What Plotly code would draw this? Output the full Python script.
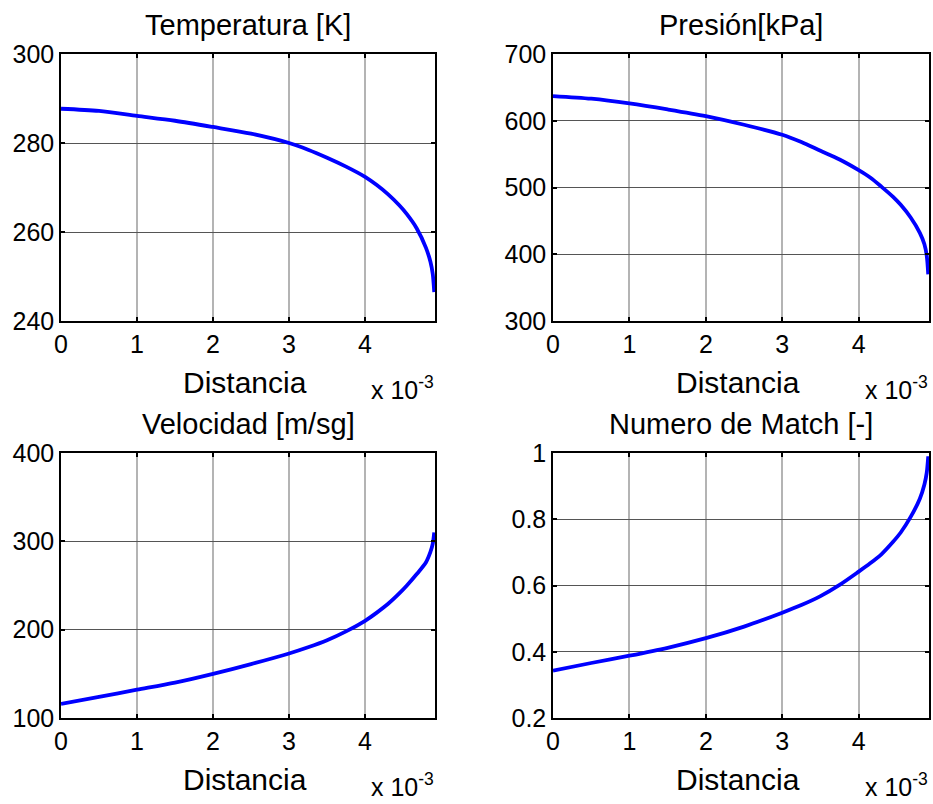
import plotly.graph_objects as go

# Distance in units of 1e-3 (axis multiplier shown as "x 10^-3")
distancia = [0, 0.5, 1, 1.5, 2, 2.5, 3, 3.25, 3.5, 3.75, 4, 4.15, 4.3, 4.45, 4.55, 4.68, 4.8, 4.86, 4.89, 4.91]
temperatura = [287.7, 287.2, 286.1, 285.0, 283.6, 282.1, 280.0, 278.5, 276.7, 274.7, 272.4, 270.6, 268.5, 266.0, 264.0, 260.8, 256.5, 253.3, 250.6, 246.5]
presion = [637, 633, 626, 617, 607, 594, 579, 568, 555, 542, 526, 515, 501, 486, 474, 455, 432, 415, 398, 370]
velocidad = [116, 124, 132, 140, 150, 161, 173, 180, 188, 198, 210, 219, 229, 241, 250, 263, 276, 288, 297, 310]
mach = [0.343, 0.366, 0.388, 0.412, 0.441, 0.476, 0.518, 0.541, 0.568, 0.602, 0.642, 0.667, 0.695, 0.732, 0.76, 0.807, 0.862, 0.905, 0.94, 0.99]

titles = ["Temperatura [K]", "Presión[kPa]", "Velocidad [m/sg]", "Numero de Match [-]"]
series = [temperatura, presion, velocidad, mach]
yranges = [[240, 300], [300, 700], [100, 400], [0.2, 1.0]]
ydticks = [20, 100, 100, 0.2]
xtick_vals = [0, 1, 2, 3, 4]
xtick_text = ["0", "1", "2", "3", "4"]
xlabel = "Distancia"
multiplier = "x 10<sup>-3</sup>"

W, H = 933, 804
FONT = "Arial, Liberation Sans, sans-serif"

# pixel boxes (left, right, top, bottom)
boxes = [(61, 435, 54, 321), (553, 929, 54, 321), (61, 435, 453, 718), (553, 929, 453, 718)]

fig = go.Figure()
annotations = []
for i, (box, ys, title, yr, dt) in enumerate(zip(boxes, series, titles, yranges, ydticks)):
    l, r, t, b = box
    n = "" if i == 0 else str(i + 1)
    fig.add_trace(go.Scatter(x=distancia, y=ys, mode="lines",
                             line=dict(color="#0000ff", width=3.8, shape="spline", smoothing=0.8),
                             xaxis="x" + n, yaxis="y" + n, showlegend=False, cliponaxis=False))
    common = dict(showline=True, linecolor="black", linewidth=1.5, mirror="ticks", ticks="inside",
                  ticklen=4, tickwidth=2, tickcolor="black", zeroline=False, automargin=False,
                  tickfont=dict(family=FONT, size=25, color="black"))
    fig.layout["xaxis" + n] = dict(domain=[l / W, r / W], anchor="y" + n, range=[0, 4.92],
                                   tickvals=xtick_vals, ticktext=xtick_text, showgrid=True,
                                   gridcolor="#b4b4b4", gridwidth=1.5, **common)
    fig.layout["yaxis" + n] = dict(domain=[1 - b / H, 1 - t / H], anchor="x" + n, range=yr, dtick=dt,
                                   tick0=yr[0], showgrid=True, gridcolor="#555555", gridwidth=1, **common)
    cx = (l + r) / 2
    annotations.append(dict(text=title, x=cx / W, y=1 - (t - 29) / H, xref="paper", yref="paper",
                            xanchor="center", yanchor="middle", showarrow=False,
                            font=dict(family=FONT, size=29, color="black")))
    annotations.append(dict(text=xlabel, x=(cx - 3) / W, y=1 - (b + 61) / H, xref="paper", yref="paper",
                            xanchor="center", yanchor="middle", showarrow=False,
                            font=dict(family=FONT, size=30, color="black")))
    annotations.append(dict(text=multiplier, x=(r + 1) / W, y=1 - (b + 67) / H, xref="paper", yref="paper",
                            xanchor="right", yanchor="middle", showarrow=False,
                            font=dict(family=FONT, size=25, color="black")))

fig.update_layout(width=W, height=H, margin=dict(l=0, r=0, t=0, b=0, autoexpand=False),
                  paper_bgcolor="white", plot_bgcolor="white", annotations=annotations)
fig.write_html("out.html")
